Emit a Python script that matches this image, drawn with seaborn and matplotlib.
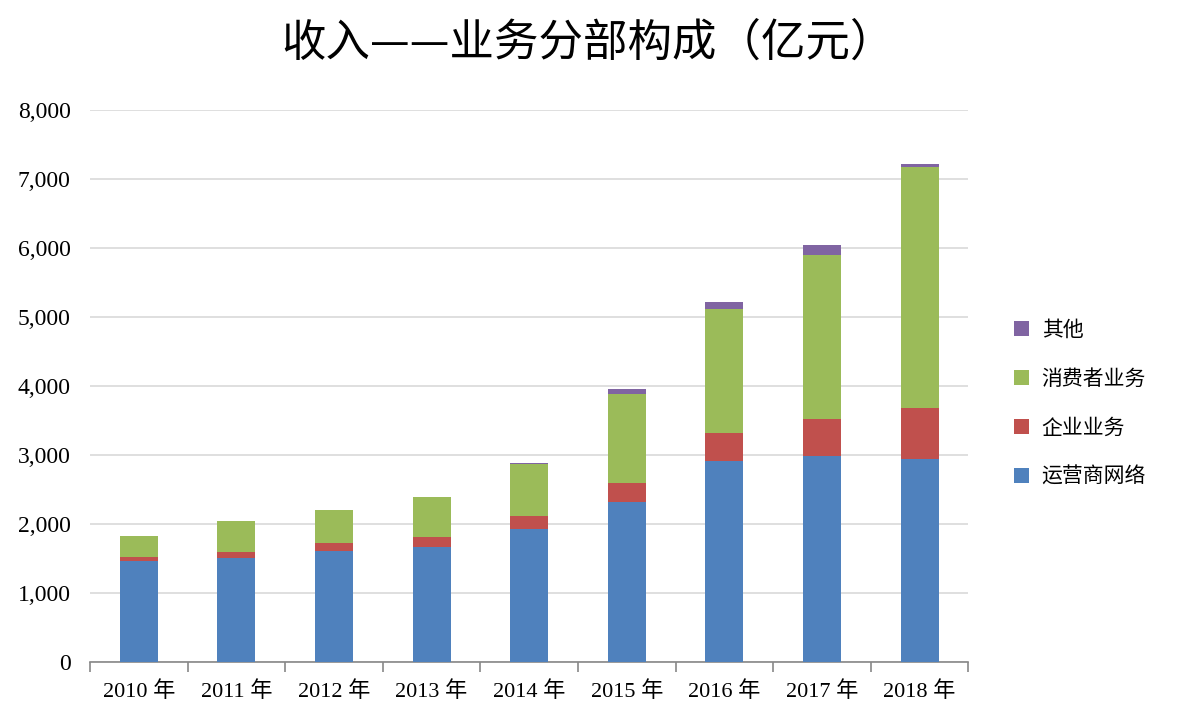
import pandas as pd
import numpy as np
import matplotlib
matplotlib.use("Agg")
import matplotlib.pyplot as plt
import seaborn as sns
from matplotlib.patches import Patch

years = ['2010 年', '2011 年', '2012 年', '2013 年', '2014 年', '2015 年', '2016 年', '2017 年', '2018 年']
carrier = [1460, 1500, 1602, 1664, 1925, 2323, 2906, 2978, 2940]
enterprise = [62, 92, 115, 153, 192, 276, 407, 549, 744]
consumer = [300, 446, 484, 570, 751, 1291, 1798, 2372, 3489]
other = [0, 0, 0, 3, 14, 60, 105, 137, 39]

series_names = ['运营商网络', '企业业务', '消费者业务', '其他']
colors = ['#4F81BD', '#C0504D', '#9BBB59', '#8064A2']

sns.set_style("white")
plt.rcParams['font.family'] = ['Liberation Serif', 'Noto Sans CJK SC']
plt.rcParams['text.color'] = 'black'
plt.rcParams['xtick.color'] = 'black'
plt.rcParams['ytick.color'] = 'black'

df = pd.DataFrame({'year': years, '运营商网络': carrier, '企业业务': enterprise,
                   '消费者业务': consumer, '其他': other})
cum = df[series_names].cumsum(axis=1)

fig = plt.figure(figsize=(12, 7.18), dpi=100)
ax = fig.add_axes([0.075, 0.078, 0.732, 0.769])

# stacked bars: draw the tallest cumulative first, then overlay the lower ones
for name, color in reversed(list(zip(series_names, colors))):
    sns.barplot(x=df['year'], y=cum[name], color=color, width=0.39,
                saturation=1, ax=ax, zorder=3, linewidth=0)

ax.set_ylim(0, 8000)
ax.set_xlim(-0.5, len(years) - 0.5)
ax.set_yticks(range(0, 8001, 1000))
ax.set_yticklabels([f'{v:,}' for v in range(0, 8001, 1000)], fontsize=17)
ax.yaxis.grid(True, color='#d9d9d9', linewidth=1.2, zorder=0)
ax.set_axisbelow(True)
ax.set_xlabel('')
ax.set_ylabel('')
ax.tick_params(axis='y', length=0, pad=14)

# x tick labels centered, tick marks at category boundaries
ax.set_xticks(range(len(years)))
ax.set_xticklabels(years, fontsize=16)
ax.tick_params(axis='x', which='major', length=0, pad=14)
ax.set_xticks(np.arange(-0.5, len(years) + 0.5, 1), minor=True)
ax.tick_params(axis='x', which='minor', bottom=True, length=7,
               color='#888888', width=1.2, direction='out')

for s in ['top', 'right', 'left']:
    ax.spines[s].set_visible(False)
ax.spines['bottom'].set_color('#888888')
ax.spines['bottom'].set_linewidth(1.2)

handles = [Patch(facecolor=c, edgecolor='none') for c in reversed(colors)]
leg = ax.legend(handles, list(reversed(series_names)), loc='center left',
                bbox_to_anchor=(1.03, 0.469), frameon=False,
                handlelength=0.75, handleheight=0.75, handletextpad=0.6,
                labelspacing=1.3, prop={'family': ['Noto Sans CJK SC'], 'size': 15})

fig.text(0.49, 0.94, '收入——业务分部构成（亿元）', ha='center', va='center',
         fontsize=32, family=['Noto Sans CJK SC'], weight='medium', color='black')

fig.savefig('out.png', dpi=100, facecolor='white')
